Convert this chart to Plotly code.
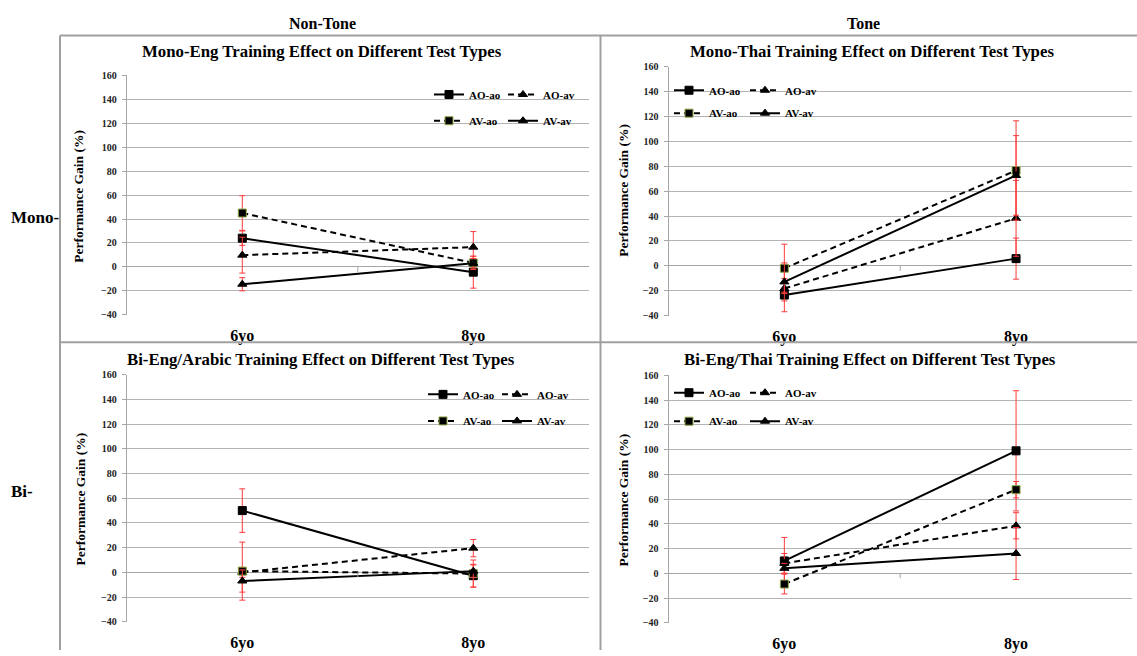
import plotly.graph_objects as go

# ---------------- data ----------------
ages = ["6yo", "8yo"]
series_names = ["AO-ao", "AO-av", "AV-ao", "AV-av"]
panel_titles = [
    "Mono-Eng Training Effect on Different Test Types",
    "Mono-Thai Training Effect on Different Test Types",
    "Bi-Eng/Arabic Training Effect on Different Test Types",
    "Bi-Eng/Thai Training Effect on Different Test Types",
]
column_headers = ["Non-Tone", "Tone"]
row_headers = ["Mono-", "Bi-"]
y_ticks = [-40, -20, 0, 20, 40, 60, 80, 100, 120, 140, 160]

# Mono-Eng
me_ao_ao = [24, -4.4]
me_ao_ao_err = [6, 13.4]
me_ao_av = [9.8, 16.5]
me_ao_av_err = [15, 13]
me_av_ao = [45, 3.3]
me_av_ao_err = [14.5, 5.5]
me_av_av = [-14.5, 3]
me_av_av_err = [5.5, 4]

# Mono-Thai
mt_ao_ao = [-23.5, 5.8]
mt_ao_ao_err = [13.4, 16.5]
mt_ao_av = [-18.2, 38.2]
mt_ao_av_err = [4, 30.5]
mt_av_ao = [-1.9, 76.6]
mt_av_ao_err = [19.3, 40]
mt_av_av = [-12.9, 72.7]
mt_av_av_err = [15.3, 32]

# Bi-Eng/Arabic
ba_ao_ao = [50, -2.7]
ba_ao_ao_err = [17.6, 9.2]
ba_ao_av = [0, 19.6]
ba_ao_av_err = [4, 7]
ba_av_ao = [1, -1]
ba_av_ao_err = [23.5, 11]
ba_av_av = [-7, 1]
ba_av_av_err = [9, 5]

# Bi-Eng/Thai
bt_ao_ao = [10, 99]
bt_ao_ao_err = [19, 48.6]
bt_ao_av = [8, 38.4]
bt_ao_av_err = [8, 10.6]
bt_av_ao = [-8.7, 67.6]
bt_av_ao_err = [8, 6.6]
bt_av_av = [4, 16]
bt_av_av_err = [4, 21]

panels_values = [
    [(me_ao_ao, me_ao_ao_err), (me_ao_av, me_ao_av_err), (me_av_ao, me_av_ao_err), (me_av_av, me_av_av_err)],
    [(mt_ao_ao, mt_ao_ao_err), (mt_ao_av, mt_ao_av_err), (mt_av_ao, mt_av_ao_err), (mt_av_av, mt_av_av_err)],
    [(ba_ao_ao, ba_ao_ao_err), (ba_ao_av, ba_ao_av_err), (ba_av_ao, ba_av_ao_err), (ba_av_av, ba_av_av_err)],
    [(bt_ao_ao, bt_ao_ao_err), (bt_ao_av, bt_ao_av_err), (bt_av_ao, bt_av_ao_err), (bt_av_av, bt_av_av_err)],
]

# ---------------- layout geometry (pixels) ----------------
W, H = 1137, 656
SERIF = "Liberation Serif"

# plot areas: (left, right, top, bottom)
areas = [
    (126.8, 588.8, 71.7, 315.0),
    (668.5, 1131.9, 62.9, 315.9),
    (126.8, 588.8, 376.0, 627.3),
    (668.5, 1131.9, 376.7, 628.3),
]
title_pos = [(322, 47), (872, 47), (321, 361), (870, 361)]
ytitle_pos = [(79, 195), (624, 189), (81, 503), (624, 504)]
# legend: (item start x, row1 y, row2 y, entrywidth)
legend_pos = [
    (429, 91, 117.7, 29),
    (669, 86.7, 110, 31),
    (423, 396, 423, 29),
    (669, 394.3, 423.3, 31),
]

styles = {
    "AO-ao": dict(dash="solid", symbol="square", mline="black"),
    "AO-av": dict(dash="6px,4px", symbol="triangle-up", mline="black"),
    "AV-ao": dict(dash="6px,4px", symbol="square", mline="#8fa84a"),
    "AV-av": dict(dash="solid", symbol="triangle-up", mline="black"),
}


def px(x):
    return x / W


def py(y):
    return 1 - y / H


fig = go.Figure()
layout = dict(
    width=W, height=H, autosize=False,
    margin=dict(l=0, r=0, t=0, b=0),
    paper_bgcolor="white", plot_bgcolor="white",
    showlegend=True,
)
annotations = []
shapes = []

for i in range(4):
    k = "" if i == 0 else str(i + 1)
    l, r, t, b = areas[i]
    xa = "x" + k
    ya = "y" + k
    layout["xaxis" + k] = dict(
        domain=[px(l), px(r)], anchor=ya, type="category",
        categoryorder="array", categoryarray=ages, range=[-0.5, 1.5],
        showgrid=False, showline=False, zeroline=False, ticks="",
        ticklabelstandoff=9,
        tickfont=dict(family=SERIF, size=16, color="black", weight="bold"),
    )
    layout["yaxis" + k] = dict(
        domain=[py(b), py(t)], anchor=xa, range=[-40, 160],
        tickvals=y_ticks, showgrid=True, gridcolor="#b4b4b4", gridwidth=1,
        showline=True, linecolor="#a6a6a6", linewidth=1,
        zeroline=True, zerolinecolor="#a6a6a6", zerolinewidth=1,
        ticks="outside", ticklen=4, tickcolor="#a6a6a6",
        ticklabelstandoff=3,
        tickfont=dict(family=SERIF, size=10, color="#222", weight="bold"),
    )
    # small tick mark on the category axis between the two groups
    shapes.append(dict(
        type="line", xref=xa, yref=ya, ysizemode="pixel", yanchor=0,
        x0=0.5, x1=0.5, y0=0, y1=-5, line=dict(color="#a6a6a6", width=1),
    ))

    lx, r1, r2, ew = legend_pos[i]
    leg_a = "legend" if i == 0 else "legend" + str(2 * i + 1)
    leg_b = "legend" + str(2 * i + 2)
    for name, ly in ((leg_a, r1), (leg_b, r2)):
        layout[name] = dict(
            x=px(lx), y=py(ly), xanchor="left", yanchor="middle",
            orientation="h", entrywidth=ew, entrywidthmode="pixels",
            bgcolor="rgba(0,0,0,0)", borderwidth=0, itemwidth=30,
            font=dict(family=SERIF, size=11, color="black", weight="bold"),
            tracegroupgap=0,
        )

    for j, sname in enumerate(series_names):
        vals, errs = panels_values[i][j]
        st = styles[sname]
        fig.add_trace(go.Scatter(
            x=ages, y=vals, name=sname, mode="lines+markers",
            xaxis=xa, yaxis=ya,
            legend=leg_a if j < 2 else leg_b,
            line=dict(color="black", width=2, dash=st["dash"]),
            marker=dict(symbol=st["symbol"], size=8, color="black",
                        line=dict(color=st["mline"], width=1)),
            error_y=dict(type="data", array=errs, visible=True,
                         color="#ff3b3b", thickness=1, width=3),
        ))

    annotations.append(dict(
        text=panel_titles[i], xref="paper", yref="paper",
        x=px(title_pos[i][0]), y=py(title_pos[i][1]),
        xanchor="center", yanchor="middle", showarrow=False,
        font=dict(family=SERIF, size=16.8, color="black", weight="bold"),
    ))
    annotations.append(dict(
        text="Performance Gain (%)", xref="paper", yref="paper",
        x=px(ytitle_pos[i][0]), y=py(ytitle_pos[i][1]), textangle=-90,
        xanchor="center", yanchor="middle", showarrow=False,
        font=dict(family=SERIF, size=13.5, color="black", weight="bold"),
    ))

# column and row headers
for txt, cx in zip(column_headers, [322, 863]):
    annotations.append(dict(
        text=txt, xref="paper", yref="paper", x=px(cx), y=py(19),
        xanchor="center", yanchor="middle", showarrow=False,
        font=dict(family=SERIF, size=16, color="black", weight="bold"),
    ))
for txt, cy in zip(row_headers, [216, 495]):
    annotations.append(dict(
        text=txt, xref="paper", yref="paper", x=px(9), y=py(cy),
        xanchor="left", yanchor="middle", showarrow=False,
        font=dict(family=SERIF, size=17, color="black", weight="bold"),
    ))

# table lines
grey = "#a0a0a0"
shapes += [
    dict(type="line", xref="paper", yref="paper", x0=px(60), x1=1, y0=py(31), y1=py(31), line=dict(color=grey, width=2)),
    dict(type="line", xref="paper", yref="paper", x0=px(60), x1=1, y0=py(343), y1=py(343), line=dict(color=grey, width=2)),
    dict(type="line", xref="paper", yref="paper", x0=px(60), x1=px(60), y0=py(31), y1=0, line=dict(color=grey, width=2)),
    dict(type="line", xref="paper", yref="paper", x0=px(600.5), x1=px(600.5), y0=py(31), y1=0, line=dict(color=grey, width=2)),
]

layout["annotations"] = annotations
layout["shapes"] = shapes
fig.update_layout(**layout)
fig.write_html(
    "out.html",
    config={"displayModeBar": False},
    post_script=(
        "document.body.style.margin='0';document.body.style.padding='0';"
        "document.body.style.overflow='hidden';"
        "var g=document.querySelector('.plotly-graph-div');"
        "g.style.position='absolute';g.style.top='0px';g.style.left='0px';"
    ),
)
